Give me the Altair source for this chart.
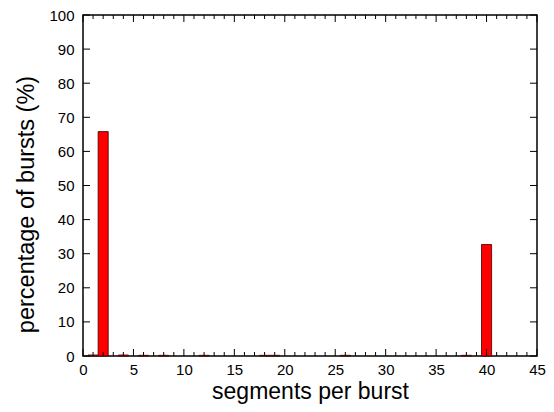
import altair as alt
import pandas as pd

# data
segments = [1, 2, 4, 6, 8, 12, 18, 19, 26, 38, 40]
percent = [0.3, 65.8, 0.3, 0.2, 0.2, 0.2, 0.2, 0.2, 0.2, 0.2, 32.7]

x_major = [0, 5, 10, 15, 20, 25, 30, 35, 40, 45]
x_minor = [i for i in range(0, 46) if i % 5 != 0]
y_major = [0, 10, 20, 30, 40, 50, 60, 70, 80, 90, 100]

W, H = 454, 341
FONT = "Liberation Sans"

bars_df = pd.DataFrame({"seg": segments, "pct": percent})
bars_df["lo"] = bars_df["seg"] - 0.5
bars_df["hi"] = bars_df["seg"] + 0.5

xscale = alt.Scale(domain=[0, 45], nice=False, zero=False)
yscale = alt.Scale(domain=[0, 100], nice=False)

xaxis = alt.Axis(values=x_major, tickSize=0, domain=False, grid=False,
                 labelFontSize=15, labelPadding=6, labelFont=FONT,
                 labelColor="black", title="segments per burst",
                 titleFont=FONT, titleFontSize=23, titleFontWeight="normal",
                 titleColor="black", titlePadding=3, labelFlush=False,
                 labelOverlap=False)
yaxis = alt.Axis(values=y_major, tickSize=0, domain=False, grid=False,
                 labelFontSize=15, labelPadding=9, labelFont=FONT,
                 labelColor="black", title="percentage of bursts (%)",
                 titleFont=FONT, titleFontSize=23.5, titleFontWeight="normal",
                 titleColor="black", titlePadding=10, labelOverlap=False,
                 titleY=189)

bars = alt.Chart(bars_df).mark_bar(
    color="#ff0000", stroke="#3a0000", strokeWidth=0.8
).encode(
    x=alt.X("lo:Q", scale=xscale, axis=xaxis),
    x2="hi:Q",
    y=alt.Y("pct:Q", scale=yscale, axis=yaxis),
    y2=alt.datum(0),
)

xmaj_df = pd.DataFrame({"t": x_major})
xmin_df = pd.DataFrame({"t": x_minor})
ymaj_df = pd.DataFrame({"v": y_major})

def xticks(df, length, bottom=True):
    if bottom:
        y1, y2 = H, H - length
    else:
        y1, y2 = 0, length
    return alt.Chart(df).mark_rule(color="black", strokeWidth=1).encode(
        x=alt.X("t:Q", scale=xscale, axis=xaxis), y=alt.value(y1), y2=alt.value(y2)
    )

def yticks(df, length, left=True):
    if left:
        x1, x2 = 0, length
    else:
        x1, x2 = W, W - length
    return alt.Chart(df).mark_rule(color="black", strokeWidth=1).encode(
        y=alt.Y("v:Q", scale=yscale, axis=yaxis), x=alt.value(x1), x2=alt.value(x2)
    )

chart = alt.layer(
    bars,
    xticks(xmaj_df, 7), xticks(xmin_df, 4),
    xticks(xmaj_df, 7, False), xticks(xmin_df, 4, False),
    yticks(ymaj_df, 7), yticks(ymaj_df, 7, False),
).properties(
    width=W, height=H,
    autosize=alt.AutoSizeParams(type="none"),
    padding={"left": 83, "top": 15, "right": 17, "bottom": 56},
    background="white",
).configure_view(stroke="black", strokeWidth=1.5)

chart.save("out.html", embed_options={"renderer": "svg", "actions": False})
